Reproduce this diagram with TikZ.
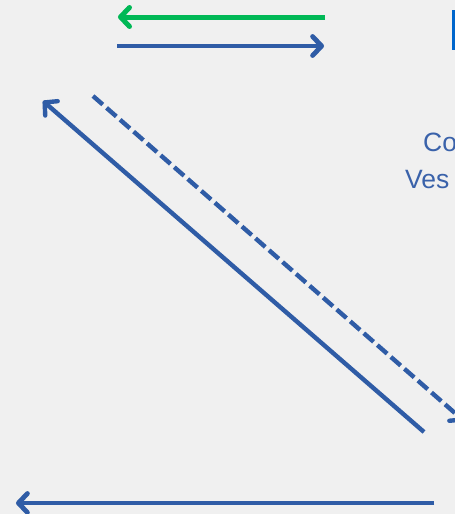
\documentclass[tikz,border=0pt]{standalone}
\usepackage{fontspec}
\setmainfont{Liberation Sans}
\usetikzlibrary{arrows.meta}
\definecolor{bgc}{HTML}{F0F0F0}
\definecolor{arblue}{HTML}{2F5CA6}
\definecolor{argreen}{HTML}{00B856}
\definecolor{txblue}{HTML}{3A62AA}
\definecolor{barblue}{HTML}{0066CC}
\tikzset{
  tipbarb/.tip={Straight Barb[length=9pt,width=19pt,round]},
  arline/.style={line width=4.8pt,color=arblue},
  diagline/.style={line width=4.4pt,color=arblue},
  lbl/.style={inner sep=0pt,anchor=base west,text=txblue,font=\fontsize{26.5pt}{30pt}\selectfont}
}
\begin{document}
\begin{tikzpicture}[x=1pt,y=-1pt]
\useasboundingbox (0,0) rectangle (455,514);
\clip (0,0) rectangle (455,514);
\fill[bgc] (0,0) rectangle (455,514);
% top right bar
\fill[barblue] (452,10) rectangle (458,50);
% coordinates
\coordinate (g1) at (325,17);
\coordinate (g2) at (118,17);
\coordinate (b1) at (117,46);
\coordinate (b2) at (324,46);
\coordinate (s1) at (424,432);
\coordinate (s2) at (43,101);
\coordinate (d1) at (93,96);
\coordinate (d2) at (464,421);
\coordinate (h1) at (434,503);
\coordinate (h2) at (16,503);
% arrows
\draw[line width=5pt,color=argreen,-{tipbarb}] (g1) -- (g2);
\draw[arline,-{tipbarb}] (b1) -- (b2);
\draw[diagline,-{tipbarb}] (s1) -- (s2);
\draw[diagline,dash pattern=on 13pt off 5pt,-{tipbarb}] (d1) -- (d2);
\draw[arline,-{tipbarb}] (h1) -- (h2);
% texts
\node[lbl] (t1) at (423,151) {Co};
\node[lbl] (t2) at (405,188) {Ves};
\end{tikzpicture}
\end{document}
